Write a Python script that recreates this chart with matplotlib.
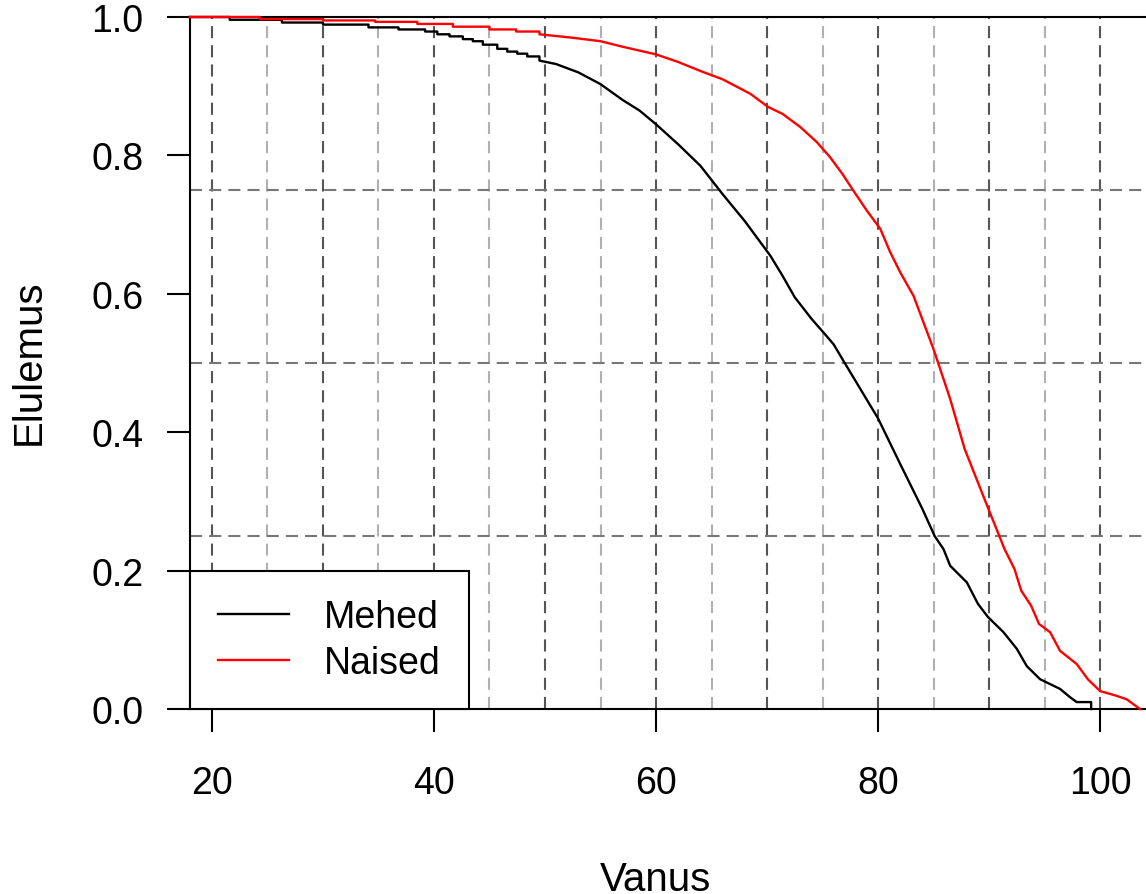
import matplotlib
matplotlib.use("Agg")
import matplotlib.pyplot as plt
import numpy as np

plt.rcParams['font.family'] = ['Liberation Sans', 'DejaVu Sans']

# ---- data ----
# early part: ages at which the curve steps down (step function);
# later part: dense readings along the curve
men_age = [18, 21.6, 26.3, 30, 34.1, 36.8, 39.2, 40.3, 41.4, 42.6, 43.5, 44.4, 45.7, 46.6,
           47.5, 48.4, 49.5, 51, 53, 55, 57, 58.5, 60, 62, 64, 66, 68, 70.3, 71.4, 72.5,
           74, 75.2, 76, 77, 78.5, 80, 82, 84, 85.1, 85.9, 86.5, 88, 89, 89.9, 91.3, 92.5,
           93.4, 94.6, 96.4, 97.3, 97.9, 99.2, 99.2]
men_surv = [1.0, 0.996, 0.992, 0.989, 0.985, 0.982, 0.979, 0.975, 0.972, 0.968, 0.965, 0.960,
            0.954, 0.950, 0.947, 0.943, 0.937, 0.932, 0.920, 0.903, 0.880, 0.865, 0.845, 0.816,
            0.785, 0.744, 0.705, 0.655, 0.626, 0.595, 0.564, 0.542, 0.527, 0.500, 0.460, 0.420,
            0.354, 0.289, 0.250, 0.231, 0.207, 0.183, 0.152, 0.133, 0.111, 0.087, 0.062, 0.043,
            0.029, 0.017, 0.010, 0.010, 0.0]

women_age = [18, 24.3, 30, 34.7, 38.5, 41.7, 45, 47.4, 49.5, 52.5, 55, 57, 60, 62, 64,
             66, 68.5, 70.1, 71.4, 73, 74.5, 75.7, 76.8, 77.7, 79, 80.2, 81.1, 82, 83.2, 85,
             86.5, 87.8, 89.6, 91.4, 92.3, 92.9, 93.8, 94.5, 95.5, 96.4, 97.9, 98.9, 100,
             101.5, 102.4, 103.6]
women_surv = [1.0, 0.997, 0.995, 0.993, 0.990, 0.986, 0.982, 0.979, 0.975, 0.970, 0.965,
              0.957, 0.946, 0.935, 0.922, 0.910, 0.889, 0.870, 0.860, 0.841, 0.819, 0.797,
              0.773, 0.751, 0.720, 0.694, 0.660, 0.631, 0.597, 0.520, 0.448, 0.376, 0.303,
              0.231, 0.202, 0.171, 0.149, 0.123, 0.111, 0.084, 0.065, 0.043, 0.026, 0.019,
              0.014, 0.0]
step_until = 49.5  # below this age the readings are individual steps

series_labels = ["Mehed", "Naised"]
x_ticks = [20, 40, 60, 80, 100]
y_ticks = [0.0, 0.2, 0.4, 0.6, 0.8, 1.0]
grid_major_x = [20, 30, 40, 50, 60, 70, 80, 90, 100]
grid_minor_x = [25, 35, 45, 55, 65, 75, 85, 95]
grid_y = [0.25, 0.5, 0.75]


def build_path(ages, surv, until):
    xs, ys = [ages[0]], [surv[0]]
    for a, s in zip(ages[1:], surv[1:]):
        if a <= until:
            xs += [a, a]
            ys += [ys[-1], s]
        else:
            xs.append(a)
            ys.append(s)
    return xs, ys


W, H = 1146, 895
fig = plt.figure(figsize=(W / 100, H / 100), dpi=100)
ax = fig.add_axes([190 / W, (H - 710) / H, (W - 190) / W, (710 - 18) / H])
ax.set_xlim(18.02, 104.14)
ax.set_ylim(0, 1)

dash = (0, (5.8, 3.4))
for gx in grid_major_x:
    ax.axvline(gx, color='#555555', lw=1.5, ls=dash, zorder=1)
for gx in grid_minor_x:
    ax.axvline(gx, color='#b0b0b0', lw=1.5, ls=dash, zorder=1)
for gy in grid_y:
    ax.axhline(gy, color='#777777', lw=1.5, ls=dash, zorder=1)

mx, my = build_path(men_age, men_surv, step_until)
wx, wy = build_path(women_age, women_surv, step_until)
ax.plot(mx, my, color='black', lw=1.7, label=series_labels[0], zorder=6, clip_on=False)
ax.plot(wx, wy, color='#ff0000', lw=1.7, label=series_labels[1], zorder=6, clip_on=False)

ax.set_xticks(x_ticks)
ax.set_xticklabels([str(v) for v in x_ticks])
ax.set_yticks(y_ticks)
ax.set_yticklabels([f"{v:.1f}" for v in y_ticks])
ax.tick_params(axis='both', direction='out', length=16.5, width=1.5, labelsize=27, colors='black')
ax.tick_params(axis='x', pad=24)
ax.tick_params(axis='y', pad=17)

for s in ['left', 'top', 'bottom']:
    ax.spines[s].set_linewidth(1.5)
    ax.spines[s].set_zorder(5)
ax.spines['right'].set_visible(False)

ax.set_xlabel("Vanus", fontsize=29)
ax.xaxis.set_label_coords((656 - 190) / 956, -0.218)
ax.xaxis.label.set_va('top')
ax.set_ylabel("Elulemus", fontsize=29)
ax.yaxis.set_label_coords((29 - 190) / 956, 0.503)
ax.yaxis.label.set_va('center')

leg = ax.legend(loc='lower left', bbox_to_anchor=(0, 0), borderaxespad=0,
                fontsize=27, handlelength=1.9, handletextpad=0.92, borderpad=0.75,
                labelspacing=0.25, fancybox=False, framealpha=1, edgecolor='black')
leg.get_frame().set_linewidth(1.5)
leg.set_zorder(7)

fig.savefig("out.png", dpi=100)
